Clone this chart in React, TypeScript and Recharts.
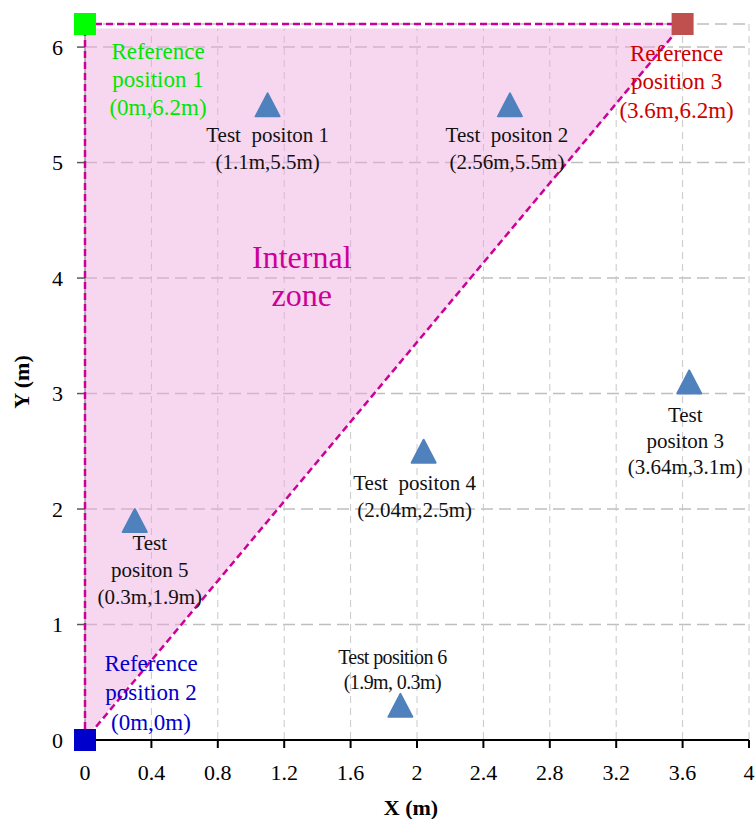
import React from 'react';
import { ComposedChart, XAxis, YAxis, CartesianGrid, Area, Scatter } from 'recharts';

const SERIF = '"Liberation Serif", "Times New Roman", serif';

// ---- data ----
const xTicks = [0, 0.4, 0.8, 1.2, 1.6, 2, 2.4, 2.8, 3.2, 3.6, 4];
const yTicks = [0, 1, 2, 3, 4, 5, 6];

// internal zone polygon (range area: [low, high])
const zoneX = [0, 3.6];
const zoneLow = [0, 6.17];
const zoneHigh = [6.17, 6.17];

// zone boundary (dashed), drawn in order
const boundaryX = [0, 0, 3.6, 0];
const boundaryY = [0, 6.2, 6.2, 0];

const refNames = ['Reference position 1', 'Reference position 2', 'Reference position 3'];
const refX = [0, 0, 3.6];
const refY = [6.2, 0, 6.2];
const refLabels = [
  ['Reference', 'position 1', '(0m,6.2m)'],
  ['Reference', 'position 2', '(0m,0m)'],
  ['Reference', 'position 3', '(3.6m,6.2m)'],
];

const testNames = ['Test 1', 'Test 2', 'Test 3', 'Test 4', 'Test 5', 'Test 6'];
const testX = [1.1, 2.56, 3.64, 2.04, 0.3, 1.9];
const testY = [5.5, 5.5, 3.1, 2.5, 1.9, 0.3];
const testLabels = [
  ['Test  positon 1', '(1.1m,5.5m)'],
  ['Test  positon 2', '(2.56m,5.5m)'],
  ['Test', 'positon 3', '(3.64m,3.1m)'],
  ['Test  positon 4', '(2.04m,2.5m)'],
  ['Test', 'positon 5', '(0.3m,1.9m)'],
  ['Test position 6', '(1.9m, 0.3m)'],
];

const zoneTextX = [1.3];
const zoneTextY = [4.0];
const zoneTextLines = ['Internal', 'zone'];

// ---- styles / layout (pixel offsets of labels relative to their marker) ----
const refColors = ['#00ff00', '#0000cc', '#c0504d'];
const refTextColors = ['#00e600', '#0000cc', '#cc0000'];
const refLabelLayout = [
  { dx: 73, dy: 27, lh: 28 },
  { dx: 66, dy: -77, lh: 29.5 },
  { dx: -6, dy: 29, lh: 28.5 },
];
const testLabelLayout = [
  { dx: 0, dy: 30, lh: 27, fs: 21, ls: 0 },
  { dx: -3, dy: 30, lh: 27, fs: 21, ls: 0 },
  { dx: -4, dy: 33, lh: 26, fs: 21, ls: 0 },
  { dx: -9, dy: 32, lh: 27, fs: 21, ls: 0 },
  { dx: 15, dy: 22, lh: 27, fs: 21, ls: 0 },
  { dx: -8, dy: -48, lh: 25, fs: 20, ls: -0.6 },
];

const zoneData = zoneX.map((x, i) => ({ x, zone: [zoneLow[i], zoneHigh[i]] }));
const boundaryData = boundaryX.map((x, i) => ({ x, y: boundaryY[i] }));
const refData = refX.map((x, i) => ({ x, y: refY[i], idx: i, name: refNames[i] }));
const testData = testX.map((x, i) => ({ x, y: testY[i], idx: i, name: testNames[i] }));
const zoneTextData = zoneTextX.map((x, i) => ({ x, y: zoneTextY[i] }));

const Lines = ({ lines, cx, cy, dx, dy, lh, fs, fill, ls }: any) => (
  <g>
    {lines.map((t: string, k: number) => (
      <text
        key={k}
        x={cx + dx}
        y={cy + dy + k * lh + fs * 0.33}
        textAnchor="middle"
        fontFamily={SERIF}
        fontSize={fs}
        fill={fill}
        letterSpacing={ls || 0}
        style={{ whiteSpace: 'pre' }}
      >
        {t}
      </text>
    ))}
  </g>
);

const RefShape = (props: any) => {
  const { cx, cy, payload } = props;
  const i = payload.idx;
  const L = refLabelLayout[i];
  return (
    <g>
      <rect x={cx - 11} y={cy - 11} width={22} height={22} fill={refColors[i]} />
      <Lines lines={refLabels[i]} cx={cx} cy={cy} dx={L.dx} dy={L.dy} lh={L.lh} fs={23} fill={refTextColors[i]} />
    </g>
  );
};

const TestShape = (props: any) => {
  const { cx, cy, payload } = props;
  const i = payload.idx;
  const L = testLabelLayout[i];
  return (
    <g>
      <polygon
        points={`${cx},${cy - 11.5} ${cx - 12},${cy + 11.5} ${cx + 12},${cy + 11.5}`}
        fill="#4f81bd"
        stroke="#4f81bd"
        strokeWidth={2}
        strokeLinejoin="round"
      />
      <Lines lines={testLabels[i]} cx={cx} cy={cy} dx={L.dx} dy={L.dy} lh={L.lh} fs={L.fs} fill="#111" ls={L.ls} />
    </g>
  );
};

const ZoneTextShape = (props: any) => {
  const { cx, cy } = props;
  return <Lines lines={zoneTextLines} cx={cx} cy={cy} dx={1} dy={-21} lh={38} fs={32} fill="#cc0099" />;
};

const NoShape = () => <g />;

const XTitle = (props: any) => {
  const vb = props.viewBox || { x: 85, y: 740, width: 664, height: 40 };
  return (
    <text x={vb.x + vb.width / 2 - 6} y={vb.y + 75} textAnchor="middle" fontFamily={SERIF} fontSize={22} fontWeight="bold" fill="#000">
      X (m)
    </text>
  );
};

const YTitle = (props: any) => {
  const vb = props.viewBox || { x: 25, y: 24, width: 60, height: 716 };
  const x = vb.x + 4;
  const y = vb.y + vb.height / 2;
  return (
    <text x={x} y={y} transform={`rotate(-90, ${x}, ${y})`} textAnchor="middle" fontFamily={SERIF} fontSize={22} fontWeight="bold" fill="#000">
      Y (m)
    </text>
  );
};

export default function App() {
  return (
    <div style={{ position: 'absolute', left: 0, top: 0, background: '#fff' }}>
      <ComposedChart width={756} height={819} data={zoneData} margin={{ top: 24, right: 7, bottom: 39, left: 25 }}>
        <CartesianGrid vertical={false} stroke="#bfbfbf" strokeWidth={1.5} strokeDasharray="12 6" />
        <CartesianGrid horizontal={false} stroke="#c8c8c8" strokeWidth={1} strokeDasharray="7 5" />
        <XAxis
          type="number"
          dataKey="x"
          domain={[0, 4]}
          ticks={xTicks}
          interval={0}
          height={40}
          axisLine={{ stroke: '#000', strokeWidth: 2 }}
          tickLine={{ stroke: '#000', strokeWidth: 2 }}
          tickSize={8}
          tickMargin={16}
          tick={{ fill: '#000', fontSize: 22, fontFamily: SERIF }}
          label={<XTitle />}
        />
        <YAxis
          type="number"
          domain={[0, 6.2]}
          ticks={yTicks}
          interval={0}
          width={60}
          axisLine={{ stroke: '#7f7f7f', strokeWidth: 1 }}
          tickLine={{ stroke: '#595959', strokeWidth: 1.5 }}
          tickSize={8}
          tickMargin={14}
          tick={{ fill: '#000', fontSize: 22, fontFamily: SERIF }}
          label={<YTitle />}
        />
        <Area
          type="linear"
          dataKey="zone"
          fill="#eda4db"
          fillOpacity={0.45}
          stroke="#ffffff"
          strokeWidth={2}
          dot={false}
          activeDot={false}
          isAnimationActive={false}
        />
        <Scatter
          data={boundaryData}
          dataKey="y"
          line={{ stroke: '#cc0099', strokeWidth: 2.5, strokeDasharray: '7 4' }}
          lineType="joint"
          shape={<NoShape />}
          isAnimationActive={false}
        />
        <Scatter data={testData} dataKey="y" shape={<TestShape />} isAnimationActive={false} />
        <Scatter data={refData} dataKey="y" shape={<RefShape />} isAnimationActive={false} />
        <Scatter data={zoneTextData} dataKey="y" shape={<ZoneTextShape />} isAnimationActive={false} />
      </ComposedChart>
    </div>
  );
}
